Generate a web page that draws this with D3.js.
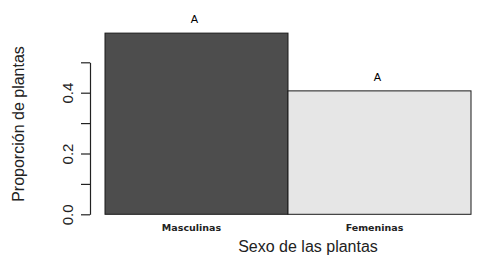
<!DOCTYPE html>
<html>
<head>
<meta charset="utf-8">
<script src="https://cdn.jsdelivr.net/npm/d3@7"></script>
<style>
  body { margin: 0; background: #fff; }
  svg { display: block; }
</style>
</head>
<body>
<div id="container"></div>
<script>
// Data
var categories = ["Masculinas", "Femeninas"];
var proportions = [0.596, 0.406];
var letters = ["A", "A"];
var barColors = ["#4d4d4d", "#e6e6e6"];
var tickValues = [0, 0.1, 0.2, 0.3, 0.4, 0.5];
var tickLabels = ["0.0", "", "0.2", "", "0.4", ""];

var width = 485, height = 257;

var svg = d3.select("#container")
  .append("svg")
  .attr("width", width)
  .attr("height", height);

// Scales
var x = d3.scaleBand()
  .domain(categories)
  .range([105, 471])
  .padding(0);

var y = d3.scaleLinear()
  .domain([0, 0.5])
  .range([214.3, 62.3]);

// Bars
svg.selectAll(".bar")
  .data(proportions)
  .enter().append("rect")
  .attr("class", "bar")
  .attr("x", function(d, i) { return x(categories[i]); })
  .attr("width", x.bandwidth())
  .attr("y", function(d) { return y(d); })
  .attr("height", function(d) { return y(0) - y(d); })
  .attr("fill", function(d, i) { return barColors[i]; })
  .attr("stroke", "#1a1a1a")
  .attr("stroke-width", 1);

// Letters above bars
svg.selectAll(".letter")
  .data(letters)
  .enter().append("text")
  .attr("class", "letter")
  .attr("x", function(d, i) { return x(categories[i]) + x.bandwidth() / 2 - 2; })
  .attr("y", function(d, i) { return y(proportions[i]) - 10; })
  .attr("text-anchor", "middle")
  .style("font-family", "Liberation Sans, Arial, sans-serif")
  .style("font-size", "11px")
  .text(function(d) { return d; });

// Y axis
var yAxis = svg.append("g")
  .attr("transform", "translate(90,0)")
  .call(d3.axisLeft(y)
    .tickValues(tickValues)
    .tickSize(9)
    .tickSizeOuter(0)
    .tickFormat(function(d, i) { return tickLabels[i]; }));

yAxis.select(".domain").attr("stroke", "#222").attr("stroke-width", 1.2);
yAxis.selectAll(".tick line").attr("stroke", "#222").attr("stroke-width", 1.2);

// rotated tick labels, as in R
yAxis.selectAll(".tick text")
  .attr("transform", "rotate(-90)")
  .attr("x", 0)
  .attr("y", -22)
  .attr("dy", "0.35em")
  .style("text-anchor", "middle")
  .style("font-family", "Liberation Sans, Arial, sans-serif")
  .style("font-size", "15px")
  .attr("fill", "#222");

// Category labels
svg.selectAll(".cat")
  .data(categories)
  .enter().append("text")
  .attr("class", "cat")
  .attr("x", function(d) { return x(d) + x.bandwidth() / 2 - 5; })
  .attr("y", 231)
  .attr("text-anchor", "middle")
  .style("font-family", "DejaVu Sans, Verdana, sans-serif")
  .style("font-weight", "bold")
  .style("font-size", "9.5px")
  .attr("fill", "#222")
  .text(function(d) { return d; });

// Axis titles
svg.append("text")
  .attr("x", 308)
  .attr("y", 252)
  .attr("text-anchor", "middle")
  .style("font-family", "Liberation Sans, Arial, sans-serif")
  .style("font-size", "16px")
  .attr("fill", "#222")
  .text("Sexo de las plantas");

svg.append("text")
  .attr("transform", "translate(24,124) rotate(-90)")
  .attr("text-anchor", "middle")
  .style("font-family", "Liberation Sans, Arial, sans-serif")
  .style("font-size", "16px")
  .attr("fill", "#222")
  .text("Proporción de plantas");
</script>
</body>
</html>
